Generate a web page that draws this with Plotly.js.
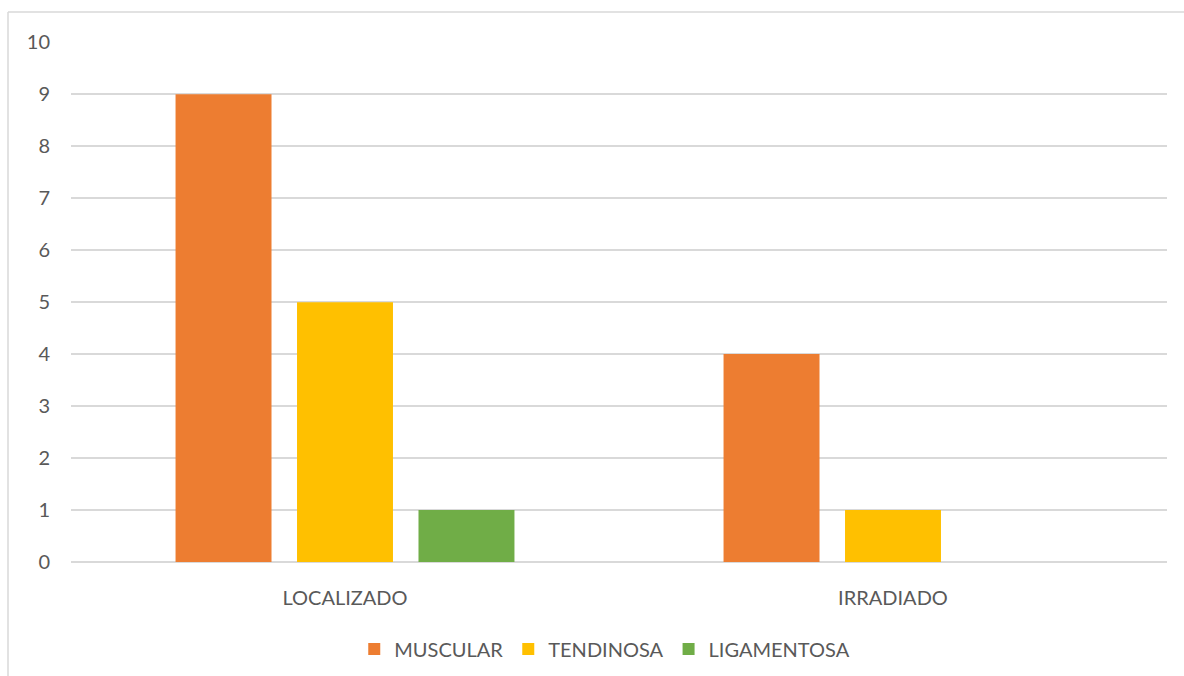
<!DOCTYPE html>
<html>
<head>
<meta charset="utf-8">
<script src="https://cdn.plot.ly/plotly-3.0.1.min.js"></script>
<style>
html,body{margin:0;padding:0;background:#fff;}
#chart{width:1184px;height:676px;}
</style>
</head>
<body>
<div id="chart"></div>
<script>
const categories = ["LOCALIZADO", "IRRADIADO"];
const seriesNames = ["MUSCULAR", "TENDINOSA", "LIGAMENTOSA"];
const muscular = [9, 4];
const tendinosa = [5, 1];
const ligamentosa = [1, 0];
const yTicks = [0, 1, 2, 3, 4, 5, 6, 7, 8, 9, 10];
const colors = ["#ED7D31", "#FFC000", "#70AD47"];

const values = [muscular, tendinosa, ligamentosa];
const traces = seriesNames.map((name, i) => ({
  type: "bar",
  name: name,
  x: categories,
  y: values[i],
  marker: {color: colors[i]},
  hoverinfo: "x+y+name"
}));

const font = {family: "Lato, 'Open Sans', sans-serif", color: "#595959", size: 20};

const layout = {
  width: 1184,
  height: 676,
  margin: {l: 71, r: 17, t: 42, b: 114, autoexpand: false},
  paper_bgcolor: "#ffffff",
  plot_bgcolor: "#ffffff",
  font: font,
  barmode: "group",
  bargap: 0.335,
  bargroupgap: 0.21,
  showlegend: true,
  legend: {
    orientation: "h",
    x: 0.487,
    xanchor: "center",
    y: -0.13,
    yanchor: "top",
    font: font,
    itemclick: false,
    traceorder: "normal"
  },
  xaxis: {
    type: "category",
    showgrid: false,
    showline: false,
    zeroline: false,
    ticks: "",
    tickfont: font,
    ticklabelstandoff: 22
  },
  yaxis: {
    range: [0, 10.005],
    tickvals: yTicks,
    ticktext: yTicks.map(String),
    showgrid: true,
    gridcolor: "#d9d9d9",
    gridwidth: 1.5,
    zeroline: true,
    zerolinecolor: "#d9d9d9",
    zerolinewidth: 1.5,
    showline: false,
    ticks: "",
    tickfont: font,
    ticklabelstandoff: 20
  },
  shapes: [
    {type: "line", xref: "paper", yref: "paper", x0: (8-71)/1096, x1: (8-71)/1096, y0: 1 + 30/520, y1: -0.3, line: {color: "#d9d9d9", width: 1.5}},
    {type: "line", xref: "paper", yref: "paper", x0: (8-71)/1096, x1: 1.1, y0: 1 + 30/520, y1: 1 + 30/520, line: {color: "#d9d9d9", width: 1.5}}
  ]
};

Plotly.newPlot("chart", traces, layout, {staticPlot: true, displayModeBar: false});
</script>
</body>
</html>
